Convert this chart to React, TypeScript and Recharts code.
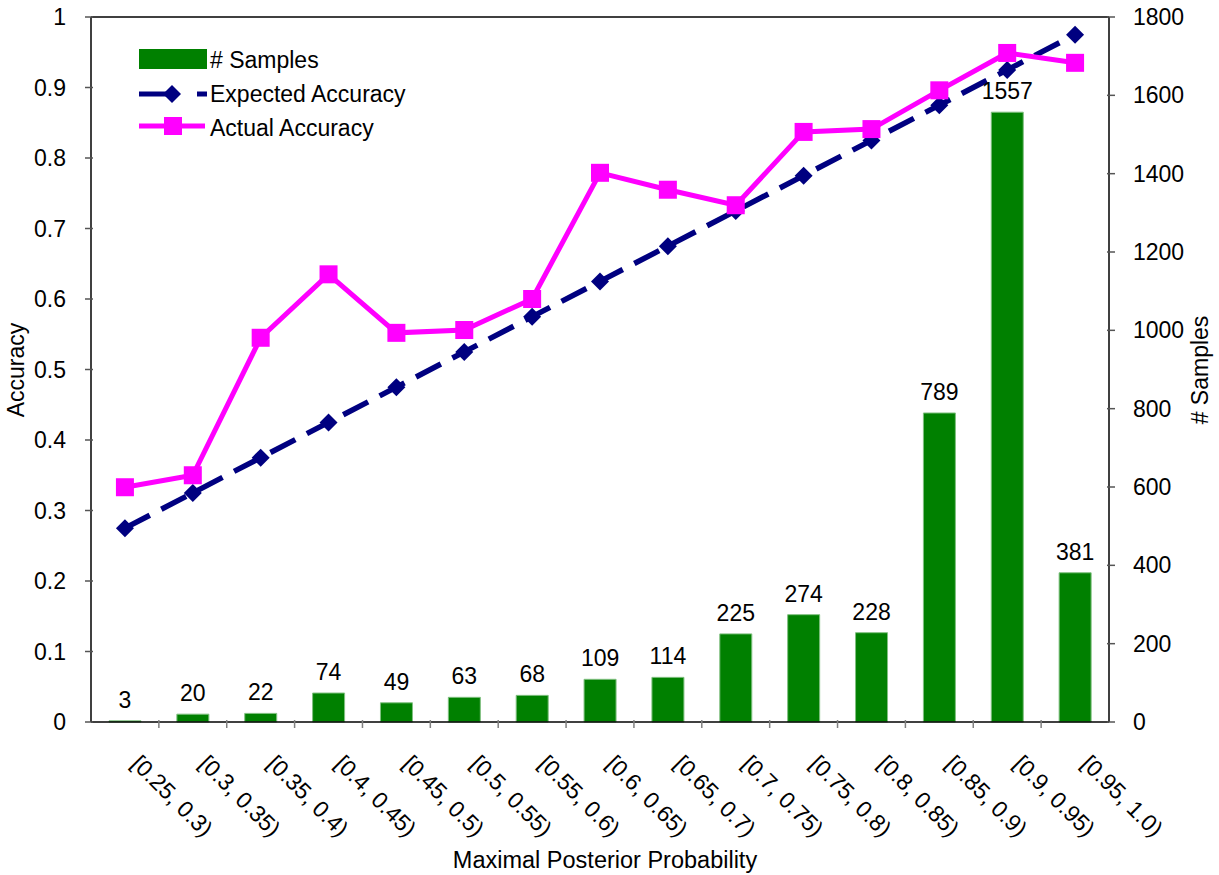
import React from 'react';
import { ComposedChart, Bar, Line, XAxis, YAxis, LabelList, ReferenceLine } from 'recharts';

const categories = [
  '[0.25, 0.3)', '[0.3, 0.35)', '[0.35, 0.4)', '[0.4, 0.45)', '[0.45, 0.5)',
  '[0.5, 0.55)', '[0.55, 0.6)', '[0.6, 0.65)', '[0.65, 0.7)', '[0.7, 0.75)',
  '[0.75, 0.8)', '[0.8, 0.85)', '[0.85, 0.9)', '[0.9, 0.95)', '[0.95, 1.0)',
];
const samples = [3, 20, 22, 74, 49, 63, 68, 109, 114, 225, 274, 228, 789, 1557, 381];
const expectedAccuracy = [0.275, 0.325, 0.375, 0.425, 0.475, 0.525, 0.575, 0.625, 0.675, 0.725, 0.775, 0.825, 0.875, 0.925, 0.975];
const actualAccuracy = [0.333, 0.35, 0.545, 0.635, 0.552, 0.556, 0.6, 0.779, 0.755, 0.733, 0.837, 0.841, 0.896, 0.949, 0.935];
const accuracyTicks = [0, 0.1, 0.2, 0.3, 0.4, 0.5, 0.6, 0.7, 0.8, 0.9, 1];
const sampleTicks = [0, 200, 400, 600, 800, 1000, 1200, 1400, 1600, 1800];

const W = 1219;
const H = 875;
const PLOT_LEFT = 91;
const PLOT_RIGHT = 1109;
const BAND = (PLOT_RIGHT - PLOT_LEFT) / categories.length;
const FONT = '"Liberation Sans", Arial, sans-serif';
const FS = 23;

const data = categories.map((name, i) => ({
  name,
  samples: samples[i],
  expected: expectedAccuracy[i],
  actual: actualAccuracy[i],
}));

const XTick = (props: any) => {
  const { x, y, payload } = props;
  const bx = x - BAND / 2;
  const tx = x + 5;
  const ty = y + 37;
  return (
    <g>
      {payload.index > 0 && <line x1={bx} x2={bx} y1={y} y2={y - 8} stroke="#808080" strokeWidth={1.5} />}
      <text x={tx} y={ty} transform={`rotate(45, ${tx}, ${ty})`} fontSize={FS} fontFamily={FONT} fill="#000">
        {payload.value}
      </text>
    </g>
  );
};

const LeftTick = (props: any) => {
  const { x, y, payload } = props;
  return (
    <g>
      <line x1={x + 19} x2={x + 27} y1={y} y2={y} stroke="#555" strokeWidth={1.5} />
      <text x={x} y={y} dy={8} textAnchor="end" fontSize={FS} fontFamily={FONT} fill="#000">
        {payload.value}
      </text>
    </g>
  );
};

const RightTick = (props: any) => {
  const { x, y, payload } = props;
  return (
    <g>
      <line x1={x - 18} x2={x - 26} y1={y} y2={y} stroke="#555" strokeWidth={1.5} />
      <text x={x} y={y} dy={8} textAnchor="start" fontSize={FS} fontFamily={FONT} fill="#000">
        {payload.value}
      </text>
    </g>
  );
};

const Diamond = (props: any) => {
  const { cx, cy, index } = props;
  const r = 9;
  return <path key={`d-${index}`} d={`M${cx},${cy - r}L${cx + r},${cy}L${cx},${cy + r}L${cx - r},${cy}Z`} fill="#000080" />;
};

const Square = (props: any) => {
  const { cx, cy, index } = props;
  return <rect key={`s-${index}`} x={cx - 9} y={cy - 9} width={18} height={18} fill="#FF00FF" />;
};

const Overlay = () => (
  <svg width={W} height={H} style={{ position: 'absolute', left: 0, top: 0, pointerEvents: 'none' }} fontFamily={FONT}>
    {/* legend */}
    <rect x={139} y={49} width={68} height={20} fill="#008000" />
    <text x={210} y={68} fontSize={FS}># Samples</text>
    <line x1={139} x2={178} y1={94} y2={94} stroke="#000080" strokeWidth={5} />
    <path d="M172,85L181,94L172,103L163,94Z" fill="#000080" />
    <line x1={197} x2={207} y1={94} y2={94} stroke="#000080" strokeWidth={5} />
    <text x={210} y={102} fontSize={FS}>Expected Accuracy</text>
    <line x1={139} x2={205} y1={126} y2={126} stroke="#FF00FF" strokeWidth={5} />
    <rect x={164} y={117} width={18} height={18} fill="#FF00FF" />
    <text x={210} y={136} fontSize={FS}>Actual Accuracy</text>
    {/* axis titles */}
    <text x={24} y={370} fontSize={FS} textAnchor="middle" transform="rotate(-90, 24, 370)">Accuracy</text>
    <text x={1208} y={370} fontSize={FS} textAnchor="middle" transform="rotate(-90, 1208, 370)"># Samples</text>
    <text x={605} y={868} fontSize={23.5} textAnchor="middle">Maximal Posterior Probability</text>
  </svg>
);

export default function App() {
  return (
    <div style={{ position: 'absolute', left: 0, top: 0, width: W, height: H, background: '#fff' }}>
      <ComposedChart width={W} height={H} data={data} margin={{ top: 17, right: 0, bottom: 0, left: 0 }}>
        <XAxis
          dataKey="name"
          height={153}
          tickLine={false}
          tickMargin={0}
          interval={0}
          axisLine={{ stroke: '#000', strokeWidth: 1.5 }}
          tick={<XTick />}
        />
        <YAxis
          yAxisId="acc"
          orientation="left"
          width={91}
          domain={[0, 1]}
          ticks={accuracyTicks}
          interval={0}
          tickLine={false}
          tickMargin={19}
          axisLine={{ stroke: '#000', strokeWidth: 1.5 }}
          tick={<LeftTick />}
        />
        <YAxis
          yAxisId="n"
          orientation="right"
          width={110}
          domain={[0, 1800]}
          ticks={sampleTicks}
          interval={0}
          tickLine={false}
          tickMargin={18}
          axisLine={{ stroke: '#000', strokeWidth: 1.5 }}
          tick={<RightTick />}
        />
        <ReferenceLine yAxisId="acc" y={1} stroke="#000" strokeWidth={1.5} />
        <Bar yAxisId="n" dataKey="samples" barSize={32} fill="#008000" stroke="#80c080" strokeWidth={1} isAnimationActive={false}>
          <LabelList dataKey="samples" position="top" offset={13} fontSize={FS} fontFamily={FONT} fill="#000" />
        </Bar>
        <Line
          yAxisId="acc"
          dataKey="expected"
          stroke="#000080"
          strokeWidth={5.5}
          strokeDasharray="28 13"
          dot={Diamond}
          activeDot={false}
          isAnimationActive={false}
        />
        <Line
          yAxisId="acc"
          dataKey="actual"
          stroke="#FF00FF"
          strokeWidth={5}
          dot={Square}
          activeDot={false}
          isAnimationActive={false}
        />
      </ComposedChart>
      <Overlay />
    </div>
  );
}
